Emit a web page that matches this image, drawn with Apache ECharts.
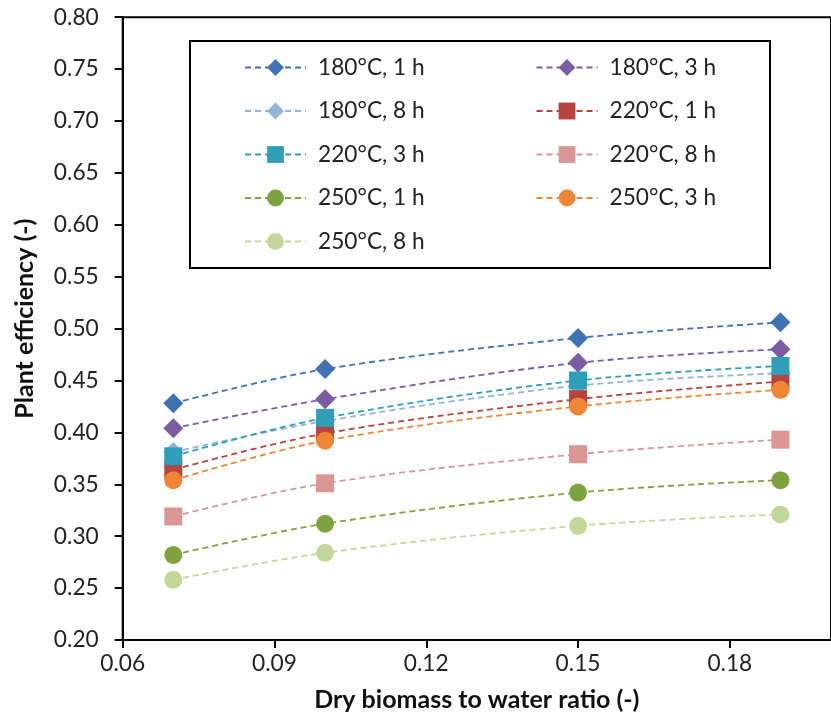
<!DOCTYPE html>
<html>
<head>
<meta charset="utf-8">
<script src="https://cdn.jsdelivr.net/npm/echarts@6/dist/echarts.min.js"></script>
<style>
  html, body { margin: 0; padding: 0; background: #fff; }
  #chart { width: 831px; height: 720px; }
</style>
</head>
<body>
<div id="chart"></div>
<script>
// Dry biomass to water ratio (x values shared by every series)
const ratios = [0.07, 0.10, 0.15, 0.19];

// Plant efficiency per process condition
const eff180_1h = [0.428, 0.461, 0.491, 0.506];
const eff180_3h = [0.404, 0.432, 0.467, 0.480];
const eff180_8h = [0.381, 0.411, 0.445, 0.457];
const eff220_1h = [0.364, 0.399, 0.432, 0.449];
const eff220_3h = [0.377, 0.414, 0.450, 0.464];
const eff220_8h = [0.319, 0.351, 0.379, 0.393];
const eff250_1h = [0.282, 0.312, 0.342, 0.354];
const eff250_3h = [0.354, 0.392, 0.425, 0.441];
const eff250_8h = [0.258, 0.284, 0.310, 0.321];

const seriesNames = [
  '180°C, 1 h', '180°C, 3 h', '180°C, 8 h',
  '220°C, 1 h', '220°C, 3 h', '220°C, 8 h',
  '250°C, 1 h', '250°C, 3 h', '250°C, 8 h'
];
const seriesValues = [
  eff180_1h, eff180_3h, eff180_8h,
  eff220_1h, eff220_3h, eff220_8h,
  eff250_1h, eff250_3h, eff250_8h
];
const seriesColors = [
  '#3F72B2', '#7A5CA3', '#95B3D7',
  '#B8423E', '#2F9FB9', '#D99694',
  '#7DA23F', '#EE8636', '#C3D69B'
];
const seriesSymbols = [
  'diamond', 'diamond', 'diamond',
  'rect', 'rect', 'rect',
  'circle', 'circle', 'circle'
];

const font = 'Lato, "Open Sans", sans-serif';

const chart = echarts.init(document.getElementById('chart'), null, { renderer: 'canvas' });

const series = seriesNames.map((name, i) => ({
  name: name,
  type: 'line',
  smooth: 0.35,
  data: ratios.map((x, j) => [x, seriesValues[i][j]]),
  symbol: seriesSymbols[i],
  symbolSize: seriesSymbols[i] === 'diamond' ? 20 : 18,
  itemStyle: { color: seriesColors[i] },
  lineStyle: { color: seriesColors[i], width: 1.8, type: [6, 4] },
  emphasis: { disabled: true },
  animation: false
}));

chart.setOption({
  animation: false,
  backgroundColor: '#ffffff',
  grid: {
    left: 122.7,
    top: 17.2,
    right: -8.5,
    bottom: 80,
    show: true,
    borderColor: '#000',
    borderWidth: 2,
    containLabel: false
  },
  xAxis: {
    type: 'value',
    min: 0.06,
    max: 0.20,
    interval: 0.03,
    name: 'Dry biomass to water ratio (-)',
    nameLocation: 'middle',
    nameGap: 47,
    nameTextStyle: { fontFamily: font, fontWeight: 'bold', fontSize: 25, color: '#111' },
    axisLine: { show: true, lineStyle: { color: '#000', width: 2 } },
    axisTick: { show: true, inside: false, length: 8, lineStyle: { color: '#000', width: 2 } },
    axisLabel: {
      showMaxLabel: false,
      fontFamily: font, fontSize: 22.7, color: '#222', margin: 12,
      formatter: v => v.toFixed(2)
    },
    splitLine: { show: false }
  },
  yAxis: {
    type: 'value',
    min: 0.20,
    max: 0.80,
    interval: 0.05,
    name: 'Plant efficiency (-)',
    nameLocation: 'middle',
    nameGap: 85,
    nameRotate: 90,
    nameTextStyle: {
      fontFamily: font, fontWeight: 'bold', fontSize: 25, color: '#111',
      padding: [0, 0, 0, 20]
    },
    axisLine: { show: true, lineStyle: { color: '#000', width: 2 } },
    axisTick: { show: true, inside: false, length: 8, lineStyle: { color: '#000', width: 2 } },
    axisLabel: {
      fontFamily: font, fontSize: 22.7, color: '#222', margin: 24,
      formatter: v => v.toFixed(2)
    },
    splitLine: { show: false }
  },
  legend: {
    show: true,
    orient: 'horizontal',
    left: 244,
    top: 54,
    width: 590,
    padding: 0,
    itemGap: 16.5,
    itemWidth: 61,
    itemHeight: 21,
    data: seriesNames,
    textStyle: {
      fontFamily: font, fontSize: 22.7, color: '#222',
      width: 201, height: 27, lineHeight: 27,
      padding: [0, 0, 0, 7]
    }
  },
  graphic: [{
    type: 'rect',
    z: 0,
    shape: { x: 190, y: 41, width: 580, height: 227 },
    style: { fill: '#fff', stroke: '#000', lineWidth: 2 }
  }],
  series: series
});
</script>
</body>
</html>
